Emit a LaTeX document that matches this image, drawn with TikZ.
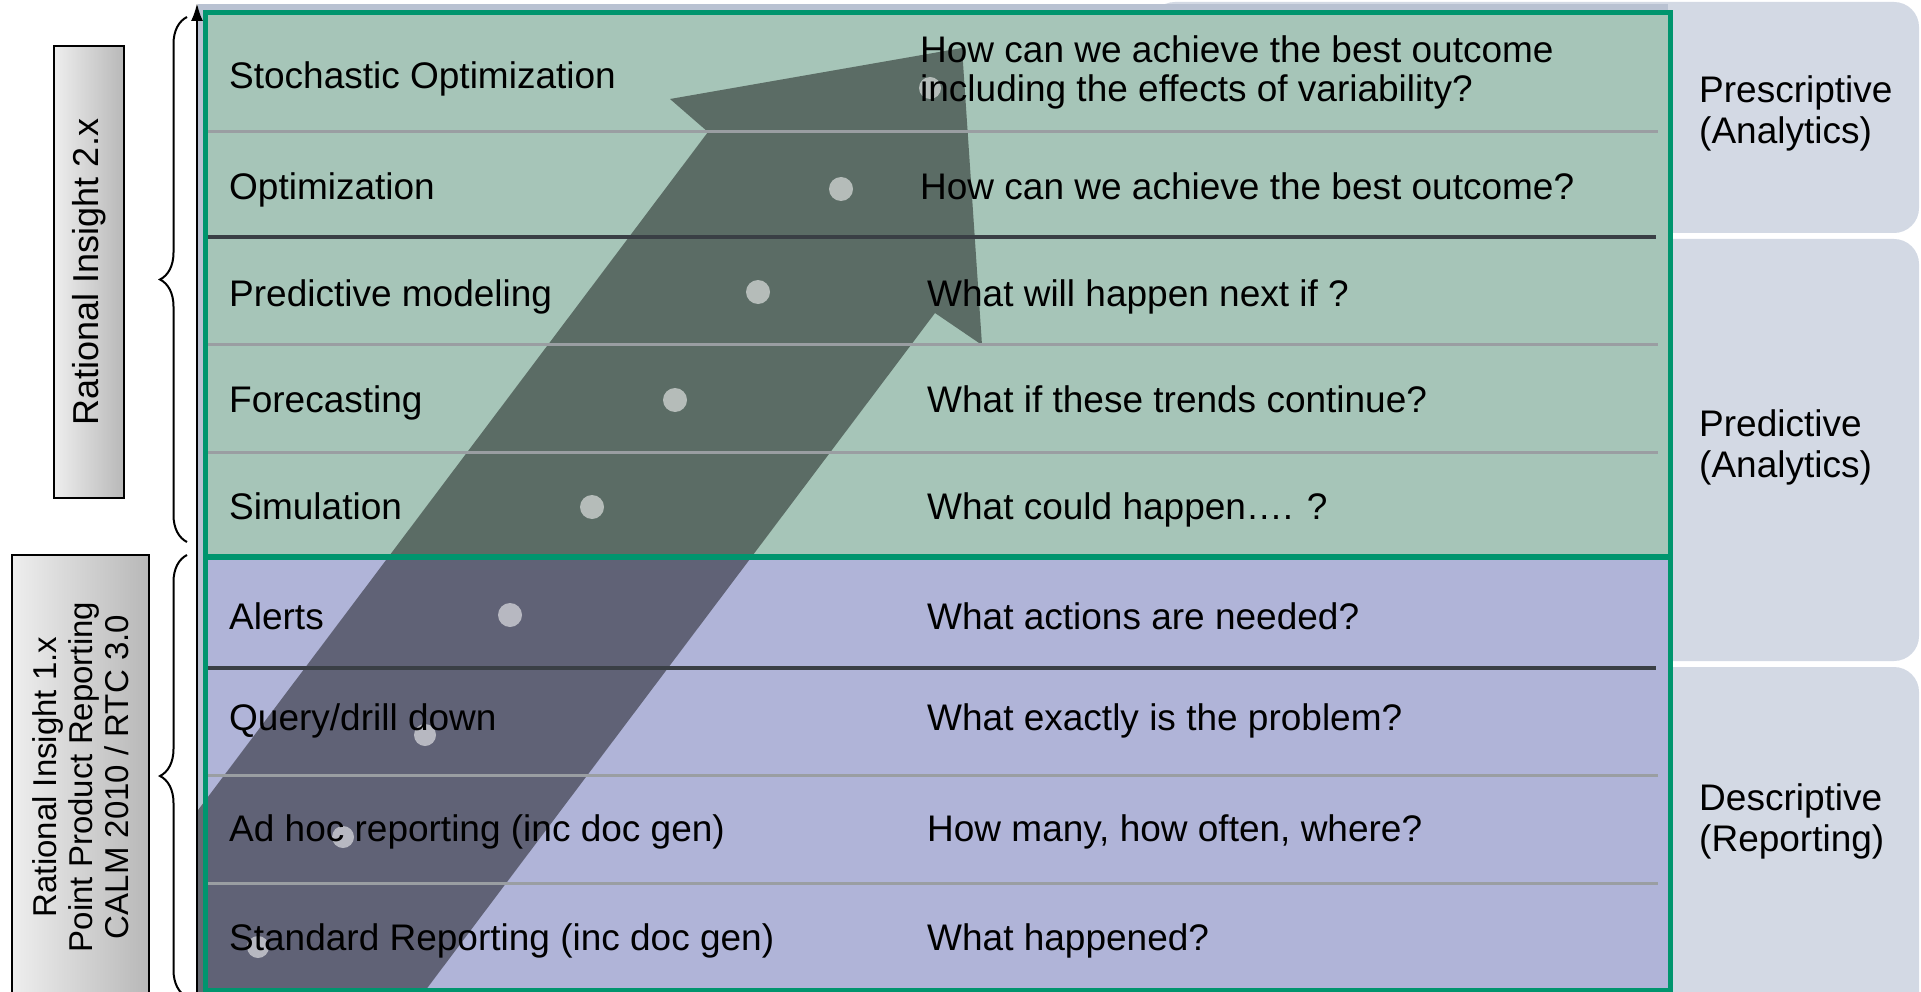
\documentclass[tikz,border=0pt]{standalone}
\usepackage{fontspec}
\setmainfont{Liberation Sans}
\usetikzlibrary{arrows.meta,decorations.pathreplacing}
\definecolor{TableGreen}{HTML}{A6C5B8}
\definecolor{TableBlue}{HTML}{B0B4D8}
\definecolor{StripGray}{HTML}{B9C2D2}
\definecolor{SideGray}{HTML}{D3D9E4}
\definecolor{BorderGreen}{HTML}{00956E}
\definecolor{RuleDark}{HTML}{3A3F45}
\definecolor{RuleLight}{HTML}{9A9EA2}
\definecolor{BoxLight}{HTML}{EEEEEE}
\definecolor{BoxDark}{HTML}{B8B8B8}

\begin{document}
\begin{tikzpicture}[x=1pt, y=-1pt, every node/.style={inner sep=0pt, font=\fontsize{37}{41}\selectfont},
  rowlabel/.style={anchor=west, text height=27pt, text depth=8pt},
  sidelabel/.style={anchor=west, align=left},
  sidebox/.style={fill=SideGray, rounded corners=25pt},
  divlight/.style={RuleLight, line width=3pt},
  divdark/.style={RuleDark, line width=4.5pt},
  infobox/.style={draw=black, line width=2pt, left color=BoxLight, right color=BoxDark, rotate=90, align=center},
  dotmark/.style={fill=white, fill opacity=0.55},
  bracemark/.style={decorate, decoration={brace, amplitude=27pt}, line width=2pt}]
  \useasboundingbox (0,0) rectangle (1921,992);
  % category boxes on the right
  \fill[sidebox] (1150,2) rectangle (1919,233);
  \fill[sidebox] (1150,239) rectangle (1919,661);
  \fill[sidebox] (1150,667) rectangle (1919,1030);
  \fill[StripGray] (198,4) rectangle (1668,992);
  % table body
  \fill[TableGreen] (205,13) rectangle (1670,557);
  \fill[TableBlue] (205,557) rectangle (1670,990);
  % big arrow
  \begin{scope}
    \clip (198,0) rectangle (1921,992);
    \fill[black, fill opacity=0.45] (-20,1100) -- (708,132) -- (670,99) -- (962,48) -- (982,345) -- (935,313) -- (343,1100) -- cycle;
  \end{scope}
  \fill[dotmark] (930,88) circle (11);
  \fill[dotmark] (841,189) circle (12);
  \fill[dotmark] (758,292) circle (12);
  \fill[dotmark] (675,400) circle (12);
  \fill[dotmark] (592,507) circle (12);
  \fill[dotmark] (510,615) circle (12);
  \fill[dotmark] (425,735) circle (11);
  \fill[dotmark] (343,837) circle (11);
  \fill[dotmark] (258,947) circle (11);
  % row dividers
  \draw[divlight] (207,132) -- (1658,132);
  \draw[divdark] (207,237) -- (1656,237);
  \draw[divlight] (207,344) -- (1658,344);
  \draw[divlight] (207,452) -- (1658,452);
  \draw[divdark] (207,668) -- (1656,668);
  \draw[divlight] (207,775) -- (1658,775);
  \draw[divlight] (207,883) -- (1658,883);
  \draw[BorderGreen, line width=5pt] (205,13) rectangle (1670,990);
  \draw[BorderGreen, line width=6pt] (205,557) -- (1670,557);
  % techniques
  \node[rowlabel] (s1) at (229,79) {Stochastic Optimization};
  \node[rowlabel] (s2) at (229,190) {Optimization};
  \node[rowlabel] (s3) at (229,297) {Predictive modeling};
  \node[rowlabel] (s4) at (229,403) {Forecasting};
  \node[rowlabel] (s5) at (229,510) {Simulation};
  \node[rowlabel] (s6) at (229,620) {Alerts};
  \node[rowlabel] (s7) at (229,721) {Query/drill down};
  \node[rowlabel] (s8) at (229,832) {Ad hoc reporting (inc doc gen)};
  \node[rowlabel] (s9) at (229,941) {Standard Reporting (inc doc gen)};
  % questions
  \node[sidelabel, font=\fontsize{37}{39}\selectfont] (q1) at (920,72) {How can we achieve the best outcome\\including the effects of variability?};
  \node[rowlabel] (q2) at (920,190) {How can we achieve the best outcome?};
  \node[rowlabel] (q3) at (927,297) {What will happen next if ?};
  \node[rowlabel] (q4) at (927,403) {What if these trends continue?};
  \node[rowlabel] (q5) at (927,510) {What could happen…. ?};
  \node[rowlabel] (q6) at (927,620) {What actions are needed?};
  \node[rowlabel] (q7) at (927,721) {What exactly is the problem?};
  \node[rowlabel] (q8) at (927,832) {How many, how often, where?};
  \node[rowlabel] (q9) at (927,941) {What happened?};
  % categories
  \node[sidelabel] (pres) at (1699,113) {Prescriptive\\(Analytics)};
  \node[sidelabel] (pred) at (1699,447) {Predictive\\(Analytics)};
  \node[sidelabel] (desc) at (1699,821) {Descriptive\\(Reporting)};
  % axis and releases
  \coordinate (axisBottom) at (197,995);
  \coordinate (axisTop) at (197,3);
  \draw[line width=2.5pt, -{Latex[length=18pt, width=12pt]}] (axisBottom) -- (axisTop);
  \draw[bracemark] (187,542) -- (187,17);
  \draw[bracemark] (187,997) -- (187,555);
  \node[infobox, font=\fontsize{36}{40}\selectfont, minimum width=452pt, minimum height=70pt] (ri2) at (89,272) {Rational Insight 2.x};
  \node[infobox, font=\fontsize{33}{36}\selectfont, minimum width=445pt, minimum height=137pt] (ri1) at (80.5,777) {Rational Insight 1.x\\Point Product Reporting\\CALM 2010 / RTC 3.0};
\end{tikzpicture}
\end{document}
